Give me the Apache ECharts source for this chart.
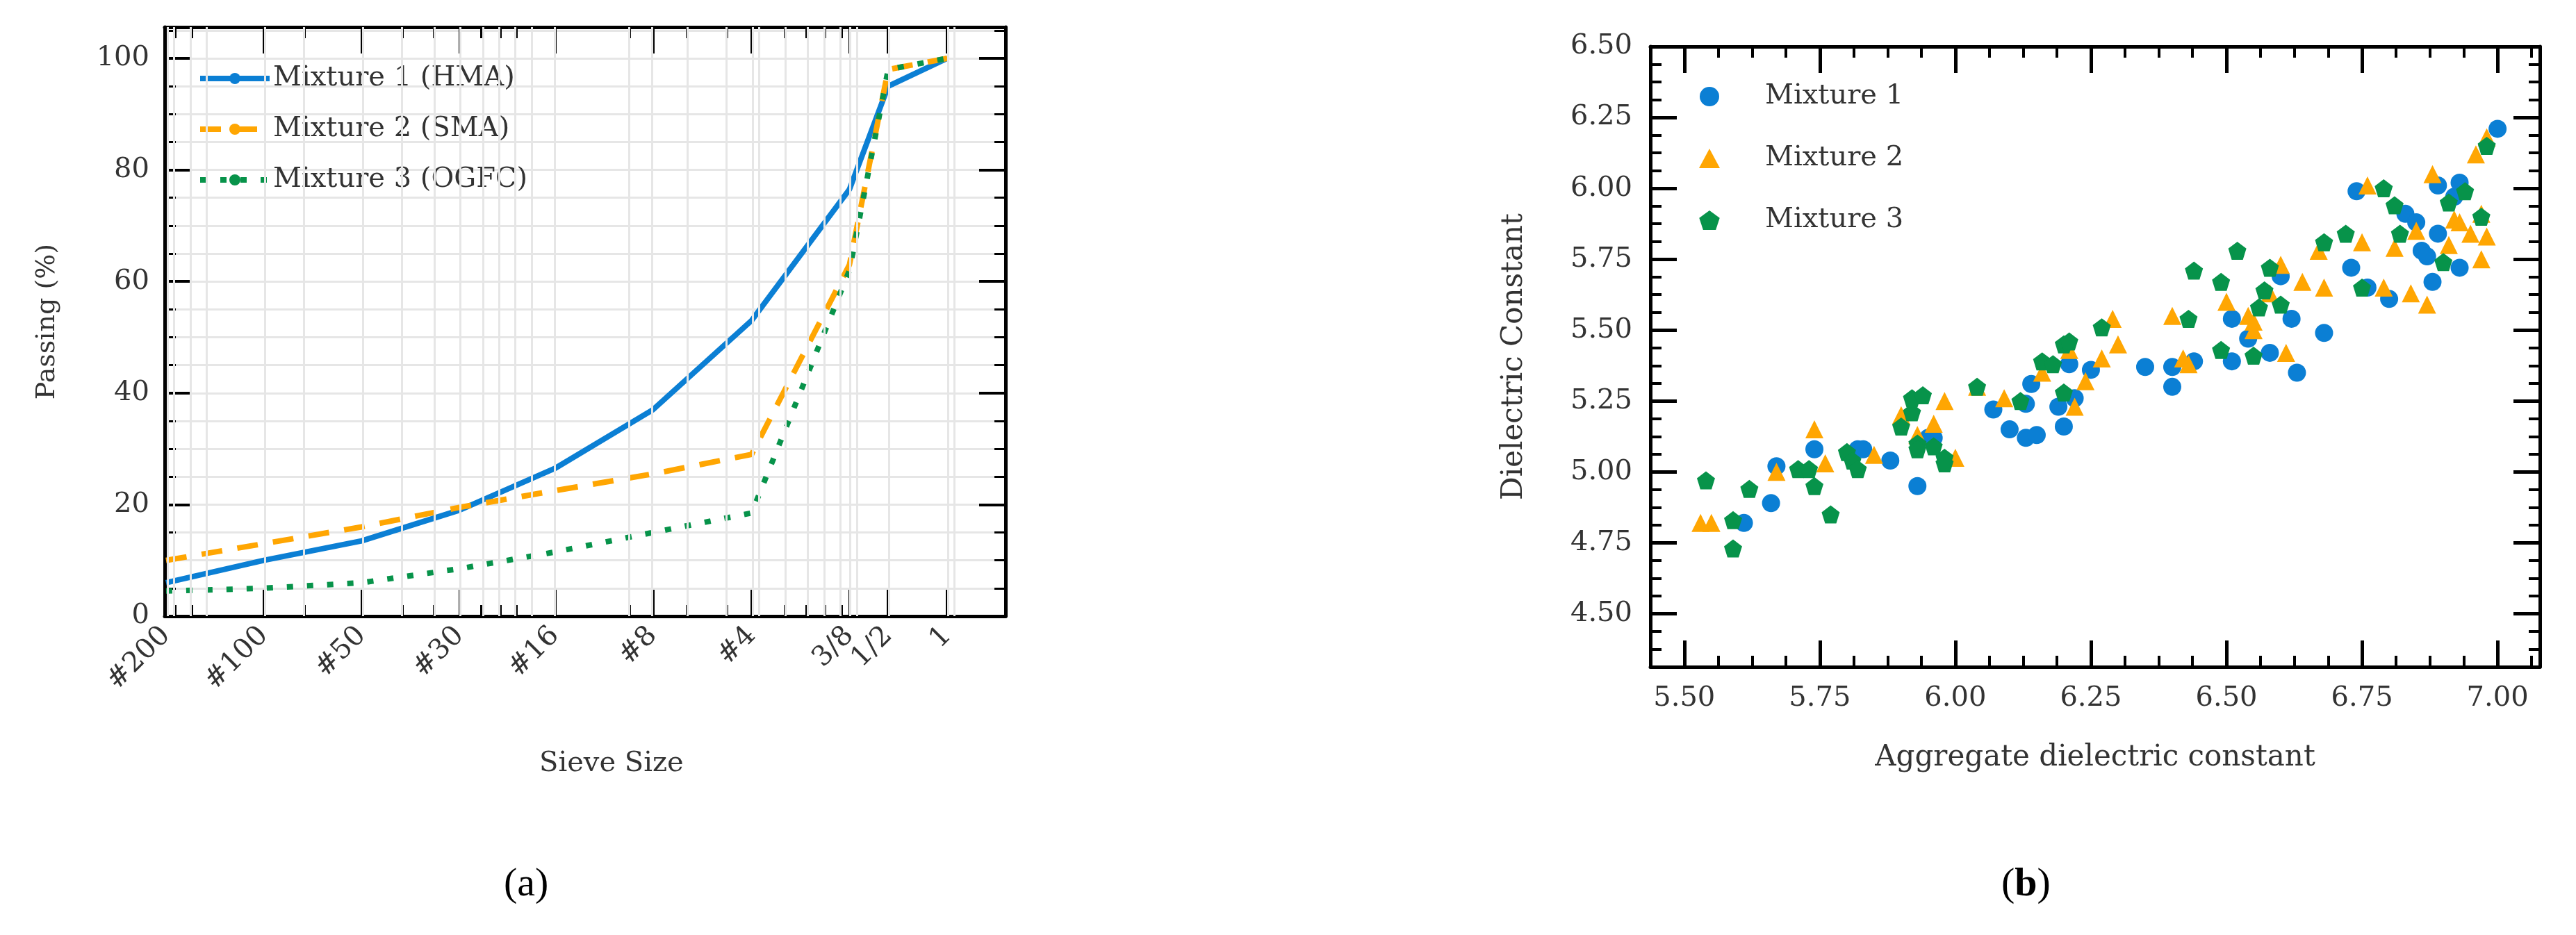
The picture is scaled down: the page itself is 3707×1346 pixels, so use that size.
<!DOCTYPE html>
<html>
<head>
<meta charset="utf-8">
<script src="https://cdn.jsdelivr.net/npm/echarts@6/dist/echarts.min.js"></script>
<style>
  html, body { margin: 0; padding: 0; background: #fff; }
  #chart { width: 3707px; height: 1346px; }
</style>
</head>
<body>
<div id="chart"></div>
<script>
// (a) 级配曲线 - 筛孔尺寸 (mm)
const sieveSizes = [0.075, 0.15, 0.3, 0.6, 1.18, 2.36, 4.75, 9.5, 12.5, 19]
const sieveLabels = ['#200', '#100', '#50', '#30', '#16', '#8', '#4', '3/8', '1/2', '1']
const hma = [6, 10, 13.5, 19, 26.5, 37, 53, 76.5, 95, 100]
const sma = [10, 13, 16, 19.5, 22.5, 25.5, 29, 63, 98, 100]
const ogfc = [4.5, 5, 6, 8.5, 11.5, 15, 18.5, 62, 98, 100]
const passTicks = [0, 20, 40, 60, 80, 100]

// (b) 散点 [集料介电常数, 混合料介电常数]
const mix1 = [[5.61,4.82],[5.66,4.89],[5.67,5.02],[5.74,5.08],[5.82,5.08],[5.83,5.08],[5.88,5.04],[5.93,4.95],[5.95,5.12],[5.96,5.12],[6.07,5.22],[6.10,5.15],[6.13,5.24],[6.13,5.12],[6.14,5.31],[6.15,5.13],[6.19,5.23],[6.20,5.16],[6.21,5.38],[6.22,5.26],[6.25,5.36],[6.35,5.37],[6.40,5.30],[6.40,5.37],[6.44,5.39],[6.51,5.39],[6.51,5.54],[6.54,5.47],[6.58,5.42],[6.60,5.69],[6.62,5.54],[6.63,5.35],[6.68,5.49],[6.73,5.72],[6.74,5.99],[6.76,5.65],[6.80,5.61],[6.83,5.91],[6.85,5.88],[6.86,5.78],[6.87,5.76],[6.88,5.67],[6.89,5.84],[6.89,6.01],[6.92,5.97],[6.93,5.72],[6.93,6.02],[7.00,6.21]]
const mix2 = [[5.53,4.82],[5.55,4.82],[5.67,5.00],[5.74,5.15],[5.76,5.03],[5.85,5.06],[5.90,5.20],[5.93,5.13],[5.96,5.17],[5.98,5.25],[6.00,5.05],[6.04,5.30],[6.09,5.26],[6.16,5.35],[6.21,5.43],[6.22,5.23],[6.24,5.32],[6.27,5.40],[6.29,5.54],[6.30,5.45],[6.40,5.55],[6.42,5.40],[6.43,5.38],[6.50,5.60],[6.54,5.55],[6.55,5.50],[6.55,5.53],[6.58,5.63],[6.60,5.73],[6.61,5.42],[6.64,5.67],[6.67,5.78],[6.68,5.65],[6.75,5.81],[6.76,6.01],[6.79,5.65],[6.81,5.79],[6.84,5.63],[6.85,5.85],[6.87,5.59],[6.88,6.05],[6.91,5.80],[6.92,5.89],[6.93,5.88],[6.95,5.84],[6.96,6.12],[6.97,5.91],[6.97,5.75],[6.98,5.83],[6.98,6.18]]
const mix3 = [[5.54,4.97],[5.59,4.83],[5.59,4.73],[5.62,4.94],[5.71,5.01],[5.73,5.01],[5.74,4.95],[5.77,4.85],[5.80,5.07],[5.81,5.04],[5.82,5.01],[5.90,5.16],[5.92,5.21],[5.92,5.26],[5.93,5.10],[5.93,5.08],[5.94,5.27],[5.96,5.09],[5.98,5.03],[5.98,5.05],[6.04,5.30],[6.12,5.25],[6.16,5.39],[6.18,5.38],[6.20,5.45],[6.21,5.46],[6.20,5.28],[6.27,5.51],[6.43,5.54],[6.44,5.71],[6.49,5.67],[6.49,5.43],[6.52,5.78],[6.55,5.41],[6.56,5.58],[6.57,5.64],[6.58,5.72],[6.60,5.59],[6.68,5.81],[6.72,5.84],[6.75,5.65],[6.79,6.00],[6.81,5.94],[6.82,5.84],[6.90,5.74],[6.91,5.95],[6.94,5.99],[6.97,5.90],[6.98,6.15]]
const dcTicks = [4.50, 4.75, 5.00, 5.25, 5.50, 5.75, 6.00, 6.25, 6.50]
const aggTicks = [5.50, 5.75, 6.00, 6.25, 6.50, 6.75, 7.00]

const FONT = 'DejaVu Serif'
const BLUE = '#0b7fd4', ORANGE = '#ffa602', GREEN = '#07934a'
const lg = v => Math.log10(v)

const xMinA = lg(0.0743), xMaxA = lg(28.7)
// 对数次刻度 (2..9 × 10^n)
const minorLog = []
;[0.01, 0.1, 1, 10].forEach(d => {
    for (let k = 1; k <= 9; k++) {
        let v = lg(k * d)
        if (v > xMinA && v < xMaxA) minorLog.push(v)
    }
})
const majorLog = sieveSizes.map(lg)

const hiddenLine = { show: false, onZero: false }
function axisBase(extra) {
    return Object.assign({
        axisLine: { show: true, onZero: false, lineStyle: { color: '#000', width: 5 } },
        splitLine: { show: false },
        axisLabel: { show: false },
        axisTick: { show: false }
    }, extra)
}
function tick(len, width, custom) {
    let t = { show: true, inside: true, length: len, lineStyle: { color: '#000', width: width } }
    if (custom) t.customValues = custom
    return t
}
const labelStyle = { color: '#333', fontFamily: FONT, fontSize: 40 }

let xAxes = [], yAxes = []
// grid 0: (a)
;['bottom', 'top'].forEach(pos => {
    xAxes.push(axisBase({ gridIndex: 0, type: 'value', position: pos, min: xMinA, max: xMaxA,
        axisTick: tick(38, 4, majorLog),
        axisLabel: pos === 'bottom' ? Object.assign({ show: true, customValues: majorLog, rotate: 45, margin: 22,
            formatter: v => sieveLabels[majorLog.findIndex(m => Math.abs(m - v) < 1e-6)] || '' }, labelStyle) : { show: false } }))
    xAxes.push(axisBase({ gridIndex: 0, type: 'value', position: pos, min: xMinA, max: xMaxA,
        axisLine: hiddenLine, axisTick: tick(16, 3, minorLog) }))
})
;['left', 'right'].forEach(pos => {
    yAxes.push(axisBase({ gridIndex: 0, type: 'value', position: pos, min: 0, max: 105.6, interval: 20,
        axisTick: tick(38, 4, passTicks),
        axisLabel: pos === 'left' ? Object.assign({ show: true, customValues: passTicks, margin: 22 }, labelStyle) : { show: false },
        name: pos === 'left' ? 'Passing (%)' : '', nameLocation: 'middle', nameGap: 150,
        nameTextStyle: { fontFamily: FONT, fontSize: 38, color: '#333' } }))
    yAxes.push(axisBase({ gridIndex: 0, type: 'value', position: pos, min: 0, max: 105.6, interval: 5,
        axisLine: hiddenLine, axisTick: tick(16, 3),
        splitLine: pos === 'left' ? { show: true, lineStyle: { color: '#e6e6e6', width: 3 } } : { show: false } }))
})
// grid 1: (b)
const xMinB = 5.4375, xMaxB = 7.078, yMinB = 4.3125, yMaxB = 6.5
;['bottom', 'top'].forEach(pos => {
    xAxes.push(axisBase({ gridIndex: 1, type: 'value', position: pos, min: xMinB, max: xMaxB,
        axisTick: tick(38, 5, aggTicks),
        axisLabel: pos === 'bottom' ? Object.assign({ show: true, customValues: aggTicks, margin: 26,
            formatter: v => v.toFixed(2) }, labelStyle) : { show: false },
        name: pos === 'bottom' ? 'Aggregate dielectric constant' : '', nameLocation: 'middle', nameGap: 110,
        nameTextStyle: { fontFamily: FONT, fontSize: 42, color: '#333' } }))
    xAxes.push(axisBase({ gridIndex: 1, type: 'value', position: pos, min: xMinB, max: xMaxB, interval: 0.0625,
        axisLine: hiddenLine, axisTick: tick(16, 4) }))
})
;['left', 'right'].forEach(pos => {
    yAxes.push(axisBase({ gridIndex: 1, type: 'value', position: pos, min: yMinB, max: yMaxB,
        axisTick: tick(38, 5, dcTicks),
        axisLabel: pos === 'left' ? Object.assign({ show: true, customValues: dcTicks, margin: 26,
            formatter: v => v.toFixed(2) }, labelStyle) : { show: false },
        name: pos === 'left' ? 'Dielectric Constant' : '', nameLocation: 'middle', nameGap: 175,
        nameTextStyle: { fontFamily: FONT, fontSize: 42, color: '#333' } }))
    yAxes.push(axisBase({ gridIndex: 1, type: 'value', position: pos, min: yMinB, max: yMaxB, interval: 0.0625,
        axisLine: hiddenLine, axisTick: tick(16, 4) }))
})

function curve(vals) {
    return sieveSizes.map((s, i) => [lg(s), vals[i]])
}
const pentagon = 'path://M0,-1 L0.951,-0.309 L0.588,0.809 L-0.588,0.809 L-0.951,-0.309 Z'

let myChart = echarts.init(document.getElementById('chart'))
myChart.setOption({
    animation: false,
    grid: [
        { left: 237, top: 39, width: 1210, height: 848 },
        { left: 2375, top: 67, width: 1280, height: 893 }
    ],
    xAxis: xAxes,
    yAxis: yAxes,
    legend: [
        { data: ['Mixture 1 (HMA)', 'Mixture 2 (SMA)', 'Mixture 3 (OGFC)'], orient: 'vertical',
          left: 279, top: 88, itemWidth: 100, itemHeight: 20, itemGap: 33,
          lineStyle: { width: 8 },
          textStyle: { fontFamily: FONT, fontSize: 40, color: '#333', lineHeight: 40 } },
        { data: ['Mixture 1', 'Mixture 2', 'Mixture 3'], orient: 'vertical',
          left: 2440, top: 114, itemWidth: 30, itemHeight: 28, itemGap: 49,
          textStyle: { fontFamily: FONT, fontSize: 40, color: '#333', lineHeight: 40, padding: [0, 0, 0, 60] } }
    ],
    series: [
        { type: 'line', xAxisIndex: 0, yAxisIndex: 0, data: [], silent: true, z: 1,
          markLine: { silent: true, symbol: 'none', label: { show: false },
              lineStyle: { color: '#e6e6e6', width: 3, type: 'solid' },
              data: majorLog.concat(minorLog).map(v => ({ xAxis: v })) } },
        { name: 'Mixture 1 (HMA)', type: 'line', xAxisIndex: 0, yAxisIndex: 0, data: curve(hma),
          symbol: 'none', lineStyle: { color: BLUE, width: 8 }, itemStyle: { color: BLUE } },
        { name: 'Mixture 2 (SMA)', type: 'line', xAxisIndex: 0, yAxisIndex: 0, data: curve(sma),
          symbol: 'none', lineStyle: { color: ORANGE, width: 8, type: [30, 22] }, itemStyle: { color: ORANGE } },
        { name: 'Mixture 3 (OGFC)', type: 'line', xAxisIndex: 0, yAxisIndex: 0, data: curve(ogfc),
          symbol: 'none', lineStyle: { color: GREEN, width: 8, type: [9, 20] }, itemStyle: { color: GREEN } },
        { name: 'Mixture 1', type: 'scatter', xAxisIndex: 4, yAxisIndex: 4, data: mix1,
          symbol: 'circle', symbolSize: 26, itemStyle: { color: BLUE, opacity: 1 } },
        { name: 'Mixture 2', type: 'scatter', xAxisIndex: 4, yAxisIndex: 4, data: mix2,
          symbol: 'triangle', symbolSize: 26, itemStyle: { color: ORANGE, opacity: 1 } },
        { name: 'Mixture 3', type: 'scatter', xAxisIndex: 4, yAxisIndex: 4, data: mix3,
          symbol: pentagon, symbolSize: 26, itemStyle: { color: GREEN, opacity: 1 } }
    ],
    graphic: [
        { type: 'text', left: 776, top: 1080, style: { text: 'Sieve Size', fontFamily: FONT, fontSize: 40, fill: '#333' } },
        { type: 'text', left: 725, top: 1245, style: { text: '(a)', fontFamily: 'Liberation Serif', fontSize: 58, fill: '#000' } },
        { type: 'text', left: 2880, top: 1245, style: { rich: { b: { fontWeight: 'bold', fontFamily: 'Liberation Serif', fontSize: 58 }, n: { fontFamily: 'Liberation Serif', fontSize: 58 } },
          text: '{n|(}{b|b}{n|)}', fill: '#000' } }
    ]
})
</script>
</body>
</html>
